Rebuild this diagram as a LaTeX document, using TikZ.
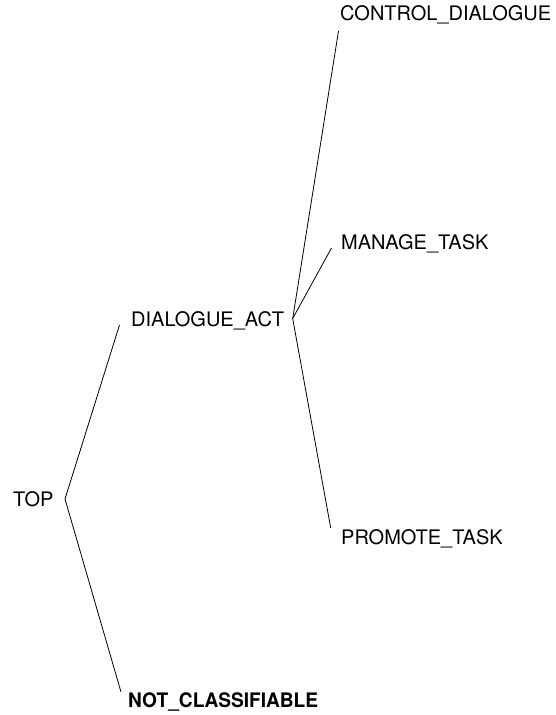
\documentclass[tikz,border=0pt]{standalone}
\usepackage{fontspec}
\setmainfont{TeX Gyre Heros}
\usepackage{tikz}

\tikzset{
	label/.style={anchor=base west, inner sep=0pt, font=\fontsize{20bp}{24bp}\selectfont},
	edge/.style={color=black, line width=0.8bp}
}

\begin{document}
\begin{tikzpicture}[x=1bp, y=-1bp]
				\useasboundingbox (0,0) rectangle (556,715);
				
				\node[label] (top) at (13,506) {TOP};
				\node[label] (dact) at (131,326) {DIALOGUE\_ACT};
				\node[label] (ctrl) at (340,21) {CONTROL\_DIALOGUE};
				\node[label] (manage) at (341,249) {MANAGE\_TASK};
				\node[label] (promote) at (341,544) {PROMOTE\_TASK};
				\node[label, font=\fontsize{20bp}{24bp}\selectfont\bfseries] (notcl) at (128,707) {\scalebox{0.955}[1]{NOT\_CLASSIFIABLE}};
				
				% branch points and line ends
				\coordinate (topfork) at (65,499);
				\coordinate (dactfork) at (292.7,318.5);
				\coordinate (dactend) at (119.5,325);
				\coordinate (notclend) at (121,692);
				\coordinate (ctrlend) at (338.5,31);
				\coordinate (manageend) at (331.5,248);
				\coordinate (promoteend) at (330.7,528);
				
				\draw[edge] (dactend) -- (topfork) -- (notclend);
				\draw[edge] (ctrlend) -- (dactfork) -- (promoteend);
				\draw[edge] (dactfork) -- (manageend);
			\end{tikzpicture}
\end{document}
